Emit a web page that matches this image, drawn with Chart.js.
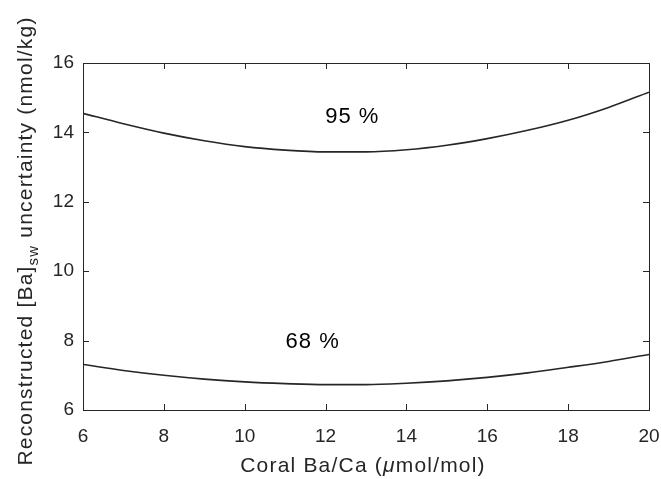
<!DOCTYPE html>
<html>
<head>
<meta charset="utf-8">
<title>Reconstructed [Ba]sw uncertainty</title>
<script src="https://cdn.jsdelivr.net/npm/chart.js@4.4.1/dist/chart.umd.min.js"></script>
<style>
    html, body { margin: 0; padding: 0; background: #ffffff; }
    #wrap { width: 661px; height: 479px; position: relative; }
</style>
</head>
<body>
<div id="wrap"><canvas id="uncChart" width="661" height="479"></canvas></div>
<script>
// Coral Ba/Ca values (umol/mol)
const baCa = [6, 7, 8, 9, 10, 11, 12, 13, 14, 15, 16, 17, 18, 19, 20];
// uncertainty at 95 % and 68 % (nmol/kg)
const unc95 = [14.55, 14.25, 13.98, 13.76, 13.59, 13.49, 13.44, 13.44, 13.50, 13.63, 13.82, 14.06, 14.35, 14.72, 15.16];
const unc68 = [7.31, 7.14, 7.00, 6.89, 6.81, 6.76, 6.73, 6.73, 6.77, 6.84, 6.94, 7.07, 7.23, 7.40, 7.60];
const xTicks = [6, 8, 10, 12, 14, 16, 18, 20];
const yTicks = [6, 8, 10, 12, 14, 16];
const curveLabels = ['95 %', '68 %'];
const labelX = [12.66, 11.68];
const labelY = [14.45, 7.95];

const FONT = "'Liberation Sans', Arial, Helvetica, sans-serif";
const AXIS_COLOR = '#262626';

function toPoints(xs, ys) {
    return xs.map((x, i) => ({ x: x, y: ys[i] }));
}

// write text pieces side by side, centred on cx
function drawPieces(ctx, parts, cx, y) {
    let total = 0;
    parts.forEach(p => { ctx.font = p.f; total += ctx.measureText(p.t).width; });
    let x = cx - total / 2;
    parts.forEach(p => {
        ctx.font = p.f;
        ctx.fillText(p.t, x, y + (p.dy || 0));
        x += ctx.measureText(p.t).width;
    });
}

// draws the box, inward ticks, curve labels and the axis titles
const matlabLook = {
    id: 'matlabLook',
    afterDraw(chart) {
        const ctx = chart.ctx;
        const a = chart.chartArea;
        const xs = chart.scales.x;
        const ys = chart.scales.y;
        ctx.save();
        ctx.strokeStyle = AXIS_COLOR;
        ctx.lineWidth = 1;
        ctx.strokeRect(a.left + 0.5, a.top + 0.5, a.right - a.left, a.bottom - a.top);

        const tl = 6;
        ctx.beginPath();
        xTicks.forEach(v => {
            const px = Math.round(xs.getPixelForValue(v)) + 0.5;
            ctx.moveTo(px, a.bottom); ctx.lineTo(px, a.bottom - tl);
            ctx.moveTo(px, a.top); ctx.lineTo(px, a.top + tl);
        });
        yTicks.forEach(v => {
            const py = Math.round(ys.getPixelForValue(v)) + 0.5;
            ctx.moveTo(a.left, py); ctx.lineTo(a.left + tl, py);
            ctx.moveTo(a.right, py); ctx.lineTo(a.right - tl, py);
        });
        ctx.stroke();

        // curve labels
        ctx.fillStyle = '#000000';
        ctx.letterSpacing = '1px';
        ctx.font = '22px ' + FONT;
        ctx.textAlign = 'center';
        ctx.textBaseline = 'middle';
        curveLabels.forEach((t, i) => {
            ctx.fillText(t, xs.getPixelForValue(labelX[i]), ys.getPixelForValue(labelY[i]));
        });

        ctx.fillStyle = AXIS_COLOR;
        ctx.textAlign = 'left';
        ctx.textBaseline = 'alphabetic';
        ctx.letterSpacing = '1.2px';

        // x axis title, italic mu
        drawPieces(ctx, [
            { t: 'Coral Ba/Ca (', f: '21px ' + FONT },
            { t: 'μ', f: 'italic 21px ' + FONT },
            { t: 'mol/mol)', f: '21px ' + FONT }
        ], 363, 472);

        // y axis title with subscript
        ctx.translate(32, 241);
        ctx.rotate(-Math.PI / 2);
        drawPieces(ctx, [
            { t: 'Reconstructed [Ba]', f: '21px ' + FONT },
            { t: 'sw', f: '15px ' + FONT, dy: 6 },
            { t: ' uncertainty (nmol/kg)', f: '21px ' + FONT }
        ], 0, 0);
        ctx.restore();
    }
};

document.addEventListener('DOMContentLoaded', () => {
    const ctx = document.getElementById('uncChart').getContext('2d');
    const lineStyle = {
        borderColor: '#262626',
        borderWidth: 1.6,
        pointRadius: 0,
        fill: false,
        cubicInterpolationMode: 'monotone'
    };
    new Chart(ctx, {
        type: 'line',
        data: {
            datasets: [
                Object.assign({ label: '95 %', data: toPoints(baCa, unc95) }, lineStyle),
                Object.assign({ label: '68 %', data: toPoints(baCa, unc68) }, lineStyle)
            ]
        },
        options: {
            responsive: false,
            animation: false,
            layout: { padding: { left: 0, top: 63, right: 12, bottom: 0 } },
            plugins: { legend: { display: false }, tooltip: { enabled: false } },
            scales: {
                x: {
                    type: 'linear',
                    min: 6,
                    max: 20,
                    afterBuildTicks: s => { s.ticks = xTicks.map(v => ({ value: v })); },
                    afterFit: s => { s.height = 69; s.paddingLeft = 0; s.paddingRight = 0; },
                    grid: { display: false, drawTicks: false },
                    border: { display: false },
                    ticks: { color: AXIS_COLOR, font: { family: FONT, size: 19 }, padding: 15, maxRotation: 0 }
                },
                y: {
                    min: 6,
                    max: 16,
                    afterBuildTicks: s => { s.ticks = yTicks.map(v => ({ value: v })); },
                    afterFit: s => { s.width = 83; },
                    grid: { display: false, drawTicks: false },
                    border: { display: false },
                    ticks: { color: AXIS_COLOR, font: { family: FONT, size: 19 }, padding: 9 }
                }
            }
        },
        plugins: [matlabLook]
    });
});
</script>
</body>
</html>
